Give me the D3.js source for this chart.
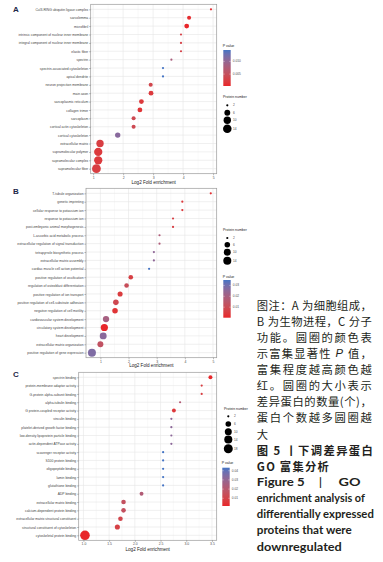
<!DOCTYPE html>
<html><head><meta charset="utf-8">
<script src="https://cdn.jsdelivr.net/npm/d3@7/dist/d3.min.js"></script>
<style>body{margin:0;background:#fff}svg{display:block}</style>
</head><body><svg id="c" width="383" height="562"></svg>
<script>
// ---------- DATA ----------
const catA = ["Cul3-RING ubiquitin ligase complex","sarcolemma","microfibril","intrinsic component of nuclear inner membrane","integral component of nuclear inner membrane","elastic fiber","spectrin","spectrin-associated cytoskeleton","apical dendrite","neuron projection membrane","main axon","sarcoplasmic reticulum","collagen trimer","sarcoplasm","cortical actin cytoskeleton","cortical cytoskeleton","extracellular matrix","supramolecular polymer","supramolecular complex","supramolecular fiber"];
const fcA = [4.93,4.20,4.12,3.93,3.93,3.93,3.61,3.33,3.33,2.92,2.93,2.61,2.56,2.35,2.35,1.82,1.23,1.17,1.17,1.11];
const pA = [0.0010,0.0008,0.0003,0.0030,0.0030,0.0030,0.0080,0.0145,0.0145,0.0035,0.0020,0.0020,0.0015,0.0040,0.0040,0.0110,0.0025,0.0020,0.0020,0.0025];
const nA = [2,3,4,2,2,2,2,2,2,3,4,4,4,3,3,5,10,13,13,15];
const sizeBreaksA = [2,6,10,14];
const pBreaksA = [0.005,0.010];

const catB = ["T-tubule organization","genetic imprinting","cellular response to potassium ion","response to potassium ion","post-embryonic animal morphogenesis","L-ascorbic acid metabolic process","extracellular regulation of signal transduction","tetrapyrrole biosynthetic process","extracellular matrix assembly","cardiac muscle cell action potential","positive regulation of ossification","regulation of osteoblast differentiation","positive regulation of ion transport","positive regulation of cell-substrate adhesion","negative regulation of cell motility","cardiovascular system development","circulatory system development","heart development","extracellular matrix organization","positive regulation of gene expression"];
const fcB = [4.92,3.91,3.91,3.58,3.58,3.10,3.10,2.90,2.90,2.73,2.08,1.93,1.70,1.55,1.52,1.20,1.14,1.10,1.00,0.70];
const pB = [0.002,0.004,0.004,0.006,0.006,0.018,0.018,0.025,0.025,0.035,0.006,0.011,0.005,0.009,0.003,0.020,0.0003,0.026,0.013,0.028];
const nB = [2,2,2,2,2,2,2,2,2,2,4,4,5,6,6,8,11,10,7,14];
const sizeBreaksB = [2,6,10,14];
const pBreaksB = [0.01,0.02,0.03];

const catC = ["spectrin binding","protein-membrane adaptor activity","G-protein alpha-subunit binding","alpha-tubulin binding","G protein-coupled receptor activity","vinculin binding","platelet-derived growth factor binding","low-density lipoprotein particle binding","actin-dependent ATPase activity","scavenger receptor activity","S100 protein binding","oligopeptide binding","lamin binding","glutathione binding","ADP binding","extracellular matrix binding","calcium-dependent protein binding","extracellular matrix structural constituent","structural constituent of cytoskeleton","cytoskeletal protein binding"];
const fcC = [3.47,3.30,3.30,2.88,2.76,2.71,2.71,2.71,2.71,2.55,2.55,2.55,2.55,2.55,2.13,1.78,1.78,1.72,1.66,1.03];
const pC = [0.002,0.008,0.008,0.022,0.006,0.032,0.032,0.032,0.032,0.0433,0.0433,0.0433,0.0433,0.0433,0.022,0.016,0.016,0.011,0.009,0.0016];
const nC = [3,2,2,2,3,2,2,2,2,2,2,2,2,2,3,4,4,4,5,21];
const sizeBreaksC = [2,6,10,14,18];
const pBreaksC = [0.01,0.02,0.03,0.04];

const xTicksAB = [1,2,3,4,5];
const xTicksC = [1.0,1.5,2.0,2.5,3.0,3.5];

// caption: each line is a list of runs [text, x, width]
const captionLines = [
  {runs:[["图注：A 为细胞组成，",256.8,115]]},
  {runs:[["B 为生物进程，C 分子",256.8,115]]},
  {runs:[["功能。圆圈的颜色表",256.8,115]]},
  {runs:[["示富集显著性 |P| 值，",256.8,115]]},
  {runs:[["富集程度越高颜色越",256.8,115]]},
  {runs:[["红。圆圈的大小表示",256.8,115]]},
  {runs:[["差异蛋白的数量(个)，",256.8,115]]},
  {runs:[["蛋白个数越多圆圈越",256.8,115]]},
  {runs:[["大",256.8,0]]},
  {bold:true, runs:[["图 5 丨下调差异蛋白",256.8,116]]},
  {bold:true, runs:[["GO 富集分析",256.8,72]]},
  {bold:true, en:true, runs:[["Figure 5",256.8,48],["|",319,0],["GO",338.5,22]]},
  {bold:true, en:true, runs:[["enrichment analysis of",256.8,108]]},
  {bold:true, en:true, runs:[["differentially expressed",256.8,117]]},
  {bold:true, en:true, runs:[["proteins that were",256.8,95]]},
  {bold:true, en:true, runs:[["downregulated",256.8,85]]}
];

// ---------- DRAW ----------
const svg = d3.select("#c");
svg.append("rect").attr("width",383).attr("height",562).attr("fill","#fff");
const defs = svg.append("defs");
const FONT = "Liberation Sans, Arial, sans-serif";
const LOW = "#e8262a", HIGH = "#4474c4";

function panel(cfg){
  const {cats, fc, p, n, x0, x1, y0, y1, ticks, fmt, sizeBreaks, pBreaks, pFmt, rMax, leg, label, labelY, id} = cfg;
  const g = svg.append("g");
  const ext = d3.extent(fc), pad = (ext[1]-ext[0])*0.05;
  const x = d3.scaleLinear().domain([ext[0]-pad, ext[1]+pad]).range([x0, x1]);
  const y = d3.scalePoint().domain(cats).range([y0, y1]).padding(0.6);
  const pExt = d3.extent(p);
  const col = d3.scaleLinear().domain(pExt).range([LOW, HIGH]).interpolate(d3.interpolateLab);
  const nExt = d3.extent(n);
  const rr = v => 1.1 + (rMax-1.1)*Math.sqrt(Math.max(0,(v-nExt[0]))/(nExt[1]-nExt[0]));

  // grid
  const dom = x.domain();
  const minor = [];
  for (let i=0;i<ticks.length-1;i++) minor.push((ticks[i]+ticks[i+1])/2);
  const step = ticks[1]-ticks[0];
  if (ticks[0]-step/2 > dom[0]) minor.unshift(ticks[0]-step/2);
  if (ticks[ticks.length-1]+step/2 < dom[1]) minor.push(ticks[ticks.length-1]+step/2);
  g.selectAll(".mn").data(minor).join("line").attr("x1",d=>x(d)).attr("x2",d=>x(d)).attr("y1",y0).attr("y2",y1)
    .attr("stroke","#f1f1f1").attr("stroke-width",0.4);
  g.selectAll(".mj").data(ticks).join("line").attr("x1",d=>x(d)).attr("x2",d=>x(d)).attr("y1",y0).attr("y2",y1)
    .attr("stroke","#e6e6e6").attr("stroke-width",0.6);
  g.selectAll(".hg").data(cats).join("line").attr("x1",x0).attr("x2",x1).attr("y1",d=>y(d)).attr("y2",d=>y(d))
    .attr("stroke","#e6e6e6").attr("stroke-width",0.6);

  // points
  const rows = cats.map((c,i)=>({c, v:fc[i], p:p[i], n:n[i]}));
  g.selectAll(".pt").data(rows).join("circle").attr("cx",d=>x(d.v)).attr("cy",d=>y(d.c)).attr("r",d=>rr(d.n))
    .attr("fill",d=>col(d.p));

  // border
  g.append("rect").attr("x",x0).attr("y",y0).attr("width",x1-x0).attr("height",y1-y0)
    .attr("fill","none").attr("stroke","#9a9a9a").attr("stroke-width",0.7);

  // axes
  const xa = g.append("g").attr("transform",`translate(0,${y1})`)
    .call(d3.axisBottom(x).tickValues(ticks).tickFormat(d3.format(fmt)).tickSize(1.6).tickPadding(0.8));
  xa.select(".domain").remove();
  xa.selectAll("line").attr("stroke","#555").attr("stroke-width",0.4);
  xa.selectAll("text").attr("font-size",3.4).attr("fill","#4d4d4d").attr("font-family",FONT);
  const ya = g.append("g").attr("transform",`translate(${x0},0)`)
    .call(d3.axisLeft(y).tickSize(1.6).tickPadding(0.9));
  ya.select(".domain").remove();
  ya.selectAll("line").attr("stroke","#555").attr("stroke-width",0.4);
  ya.selectAll("text").attr("font-size",3.35).attr("fill","#444").attr("font-family",FONT);

  g.append("text").attr("x",(x0+x1)/2).attr("y",labelY).attr("text-anchor","middle").attr("dominant-baseline","central")
    .attr("font-size",4.6).attr("fill","#222").attr("font-family",FONT).text("Log2 Fold enrichment");

  // panel letter
  svg.append("text").attr("x",13).attr("y",cfg.letterY).attr("font-size",8).attr("font-weight","bold")
    .attr("fill","#1d2747").attr("font-family","Liberation Sans, Arial, sans-serif").attr("dominant-baseline","central").text(label);

  // colour legend
  const cl = leg.color;
  const gid = "grad"+id;
  const gr = defs.append("linearGradient").attr("id",gid).attr("x1",0).attr("x2",0).attr("y1",1).attr("y2",0);
  d3.range(0,1.0001,0.1).forEach(t=>{
    gr.append("stop").attr("offset",t).attr("stop-color",col(pExt[0]+t*(pExt[1]-pExt[0])));
  });
  g.append("text").attr("x",cl.x-0.6).attr("y",cl.title).attr("dominant-baseline","central").attr("font-size",3.5)
    .attr("fill","#222").attr("font-family",FONT).text("P value");
  g.append("rect").attr("x",cl.x).attr("y",cl.y0).attr("width",7.4).attr("height",cl.y1-cl.y0).attr("fill",`url(#${gid})`);
  const cy = d3.scaleLinear().domain(pExt).range([cl.y1, cl.y0]);
  pBreaks.forEach(b=>{
    g.append("line").attr("x1",cl.x).attr("x2",cl.x+1.4).attr("y1",cy(b)).attr("y2",cy(b)).attr("stroke","#fff").attr("stroke-width",0.4);
    g.append("line").attr("x1",cl.x+6).attr("x2",cl.x+7.4).attr("y1",cy(b)).attr("y2",cy(b)).attr("stroke","#fff").attr("stroke-width",0.4);
    g.append("text").attr("x",cl.x+9.5).attr("y",cy(b)).attr("dominant-baseline","central").attr("font-size",3.2)
      .attr("fill","#4d4d4d").attr("font-family",FONT).text(d3.format(pFmt)(b));
  });

  // size legend
  const sl = leg.size;
  g.append("text").attr("x",sl.x-4.3).attr("y",sl.title).attr("dominant-baseline","central").attr("font-size",3.5)
    .attr("fill","#222").attr("font-family",FONT).text("Protein number");
  sizeBreaks.forEach((b,i)=>{
    g.append("circle").attr("cx",sl.x).attr("cy",sl.ys[i]).attr("r",rr(b)).attr("fill","#000");
    g.append("text").attr("x",sl.x+5.8).attr("y",sl.ys[i]).attr("dominant-baseline","central").attr("font-size",3.2)
      .attr("fill","#4d4d4d").attr("font-family",FONT).text(b);
  });
}

panel({id:"A", label:"A", letterY:9.5, cats:catA, fc:fcA, p:pA, n:nA, x0:90.7, x1:216.7, y0:4.3, y1:173.7,
  ticks:xTicksAB, fmt:"d", sizeBreaks:sizeBreaksA, pBreaks:pBreaksA, pFmt:".3f", rMax:4.4, labelY:182.6,
  leg:{color:{x:223.3, title:46, y0:50, y1:86}, size:{x:227.3, title:97.3, ys:[105.3,112.7,120.2,128.7]}}});
panel({id:"B", label:"B", letterY:191.7, cats:catB, fc:fcB, p:pB, n:nB, x0:86, x1:216.7, y0:188.3, y1:357.7,
  ticks:xTicksAB, fmt:"d", sizeBreaks:sizeBreaksB, pBreaks:pBreaksB, pFmt:".2f", rMax:4.0, labelY:365.8,
  leg:{color:{x:223.3, title:276.7, y0:280, y1:317.7}, size:{x:227.3, title:230, ys:[238,244.8,252.2,260.7]}}});
panel({id:"C", label:"C", letterY:374.7, cats:catC, fc:fcC, p:pC, n:nC, x0:78.7, x1:216.7, y0:372.3, y1:540.3,
  ticks:xTicksC, fmt:".1f", sizeBreaks:sizeBreaksC, pBreaks:pBreaksC, pFmt:".2f", rMax:4.8, labelY:549.4,
  leg:{color:{x:222.3, title:462.6, y0:467.7, y1:506}, size:{x:228.3, title:409.3, ys:[416.3,424,431.7,439.5,448.8]}}});

// ---------- CAPTION ----------
const cap = svg.append("g");
captionLines.forEach((L,i)=>{
  const yy = 305 + i*16.07;
  L.runs.forEach(([txt, xx, w])=>{
    const t = cap.append("text").attr("x",xx).attr("y",yy).attr("dominant-baseline","central")
      .attr("fill","#231f20")
      .attr("font-family", L.en ? "Lato, 'Open Sans', sans-serif" : "'Noto Sans CJK SC', sans-serif")
      .attr("font-size", L.en ? 11 : 11.3)
      .attr("font-weight", L.bold ? "bold" : "normal");
    const parts = txt.split("|");
    if (!L.en && parts.length===3){
      t.append("tspan").text(parts[0]);
      t.append("tspan").attr("font-style","italic").attr("font-family","Liberation Sans, sans-serif").text(parts[1]);
      t.append("tspan").text(parts[2]);
    } else {
      t.text(txt);
    }
    if (w>0){
      t.attr("textLength",w).attr("lengthAdjust", L.en ? "spacingAndGlyphs" : "spacing");
    }
  });
});
</script></body></html>
